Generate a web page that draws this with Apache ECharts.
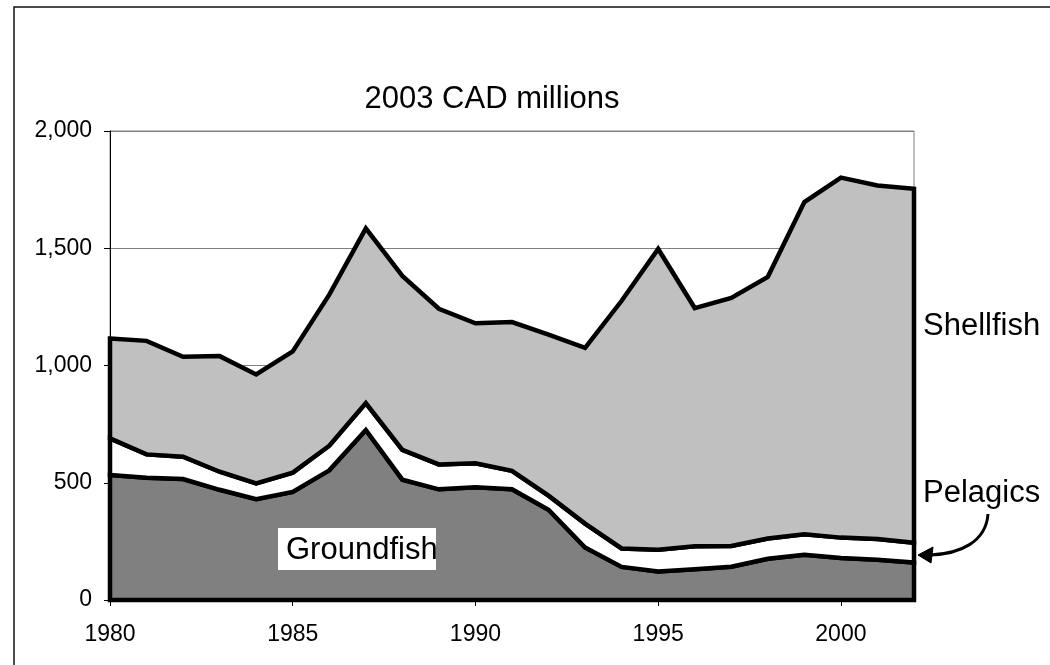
<!DOCTYPE html>
<html>
<head>
<meta charset="utf-8">
<script src="https://cdn.jsdelivr.net/npm/echarts@6/dist/echarts.min.js"></script>
<style>
html,body{margin:0;padding:0;background:#fff;}
#chart{width:1050px;height:665px;}
</style>
</head>
<body>
<div id="chart"></div>
<script>
const years = ['1980','1981','1982','1983','1984','1985','1986','1987','1988','1989','1990','1991','1992','1993','1994','1995','1996','1997','1998','1999','2000','2001','2002'];
const xTickLabels = ['1980','1985','1990','1995','2000'];
const groundfish = [533,521,516,470,430,461,553,725,513,472,481,472,385,224,141,122,131,142,176,193,179,172,160];
const pelagics   = [156,100,95,77,67,82,105,115,127,106,102,79,60,102,79,92,98,88,86,87,87,88,84];
const shellfish  = [426,484,426,493,465,517,644,745,742,664,597,634,687,749,1056,1283,1016,1058,1116,1417,1535,1508,1510];
const seriesNames = ['Groundfish','Pelagics','Shellfish'];
const seriesColors = ['#808080','#ffffff','#c0c0c0'];

const layers = [groundfish, pelagics, shellfish];
const bases = [];
let running = years.map(() => 0);
layers.forEach(vals => {
  bases.push(running.slice());
  running = running.map((b, i) => b + vals[i]);
});

const FONT = '"Liberation Sans", Arial, sans-serif';
const chart = echarts.init(document.getElementById('chart'), null, {renderer: 'canvas'});

function makeBand(k) {
  return {
    type: 'custom',
    name: seriesNames[k],
    silent: true,
    clip: false,
    data: [[0, 0]],
    encode: {x: 0, y: 1},
    z: 3 + k,
    renderItem: function (params, api) {
      const top = [], bot = [];
      for (let i = 0; i < years.length; i++) {
        top.push(api.coord([i, bases[k][i] + layers[k][i]]));
        bot.push(api.coord([i, bases[k][i]]));
      }
      return {
        type: 'polygon',
        shape: {points: top.concat(bot.reverse())},
        style: {fill: seriesColors[k], stroke: '#000', lineWidth: 4.5, lineJoin: 'miter', miterLimit: 10}
      };
    }
  };
}

const showTick = (idx, val) => xTickLabels.indexOf(val) >= 0;

chart.setOption({
  animation: false,
  backgroundColor: '#fff',
  grid: {left: 110, right: 136, top: 131, bottom: 65, show: true, borderColor: '#808080', borderWidth: 1, backgroundColor: 'transparent'},
  xAxis: {
    type: 'category',
    data: years,
    boundaryGap: false,
    axisLine: {show: true, lineStyle: {color: '#000', width: 1}},
    axisTick: {show: true, interval: showTick, length: 6, lineStyle: {color: '#000'}},
    axisLabel: {interval: showTick, margin: 23, color: '#000', fontFamily: FONT, fontSize: 23},
    splitLine: {show: false}
  },
  yAxis: {
    type: 'value',
    min: 0, max: 2000, interval: 500,
    axisLine: {show: true, lineStyle: {color: '#000', width: 1}},
    axisTick: {show: true, length: 6, lineStyle: {color: '#000'}},
    axisLabel: {margin: 18, color: '#000', fontFamily: FONT, fontSize: 23,
      formatter: v => v.toLocaleString('en-US')},
    splitLine: {show: true, lineStyle: {color: '#808080', width: 1}}
  },
  series: [makeBand(0), makeBand(1), makeBand(2)],
  graphic: [
    {type: 'rect', shape: {x: 14, y: 7, width: 1100, height: 700}, style: {fill: 'none', stroke: '#111', lineWidth: 1.5}, z: 0, silent: true},
    {type: 'text', x: 492, y: 99, style: {text: '2003 CAD millions', font: '31px ' + FONT, fill: '#000', textAlign: 'center', textVerticalAlign: 'middle'}, z: 10},
    {type: 'text', x: 923, y: 326, style: {text: 'Shellfish', font: '31px ' + FONT, fill: '#000', textAlign: 'left', textVerticalAlign: 'middle'}, z: 10},
    {type: 'text', x: 923, y: 493, style: {text: 'Pelagics', font: '31px ' + FONT, fill: '#000', textAlign: 'left', textVerticalAlign: 'middle'}, z: 10},
    {type: 'rect', shape: {x: 278, y: 528, width: 158, height: 42}, style: {fill: '#fff', stroke: 'none'}, z: 10},
    {type: 'text', x: 286, y: 550, style: {text: 'Groundfish', font: '31px ' + FONT, fill: '#000', textAlign: 'left', textVerticalAlign: 'middle'}, z: 11},
    {type: 'bezierCurve', shape: {x1: 988, y1: 514, cpx1: 986, cpy1: 542, cpx2: 960, cpy2: 554, x2: 930, y2: 555}, style: {stroke: '#000', lineWidth: 3, fill: 'none'}, z: 10},
    {type: 'polygon', shape: {points: [[918, 555], [933, 547], [931, 563]]}, style: {fill: '#000', stroke: '#000', lineWidth: 1}, z: 10}
  ]
});
</script>
</body>
</html>
